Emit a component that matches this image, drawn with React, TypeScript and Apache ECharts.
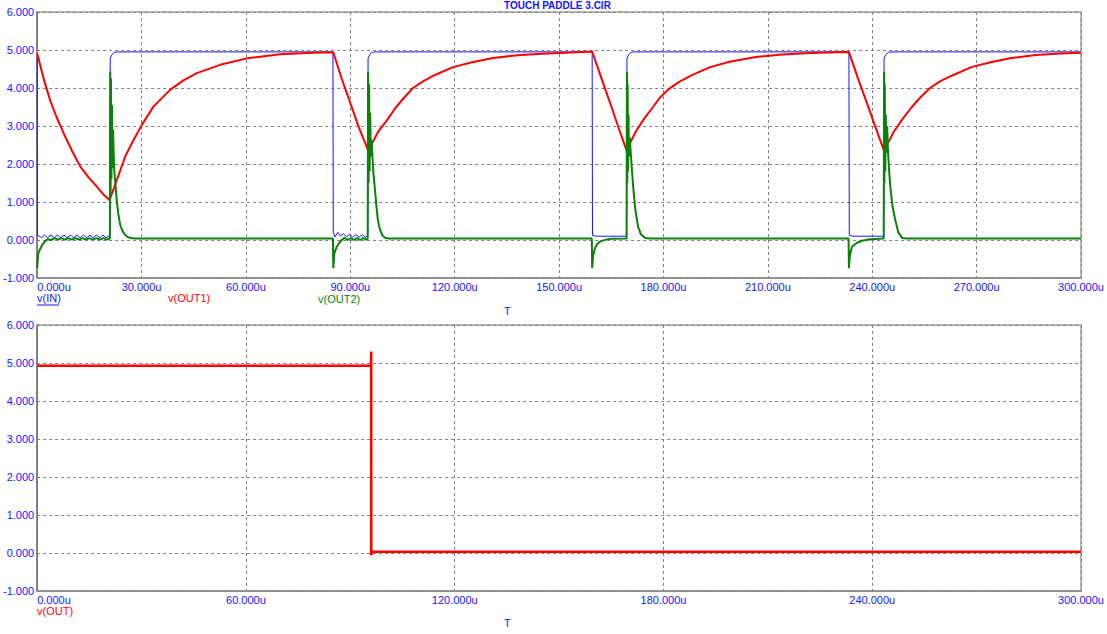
import { useEffect, useRef } from 'react';
import * as echarts from 'echarts';

const TITLE = 'TOUCH PADDLE 3.CIR';
const TOP_LEGENDS = ['v(IN)', 'v(OUT1)', 'v(OUT2)'];
const BOTTOM_LEGENDS = ['v(OUT)'];
const X_NAME = 'T';

// time in microseconds, value in volts
const vIn: number[][] = [
  [0, 4.8], [0.05, 0.12], [0.3, 0.12], [1.2, 0.06], [2.1, 0.13], [3.0, 0.06], [4.0, 0.13], [4.9, 0.06],
  [5.8, 0.13], [6.8, 0.06], [7.7, 0.13], [8.6, 0.06], [9.6, 0.13], [10.5, 0.06], [11.4, 0.13],
  [12.4, 0.06], [13.3, 0.13], [14.2, 0.06], [15.2, 0.13], [16.1, 0.06], [17.0, 0.13], [18.0, 0.06],
  [18.9, 0.13], [19.8, 0.06], [20.8, 0.12],
  [21.0, 4.78], [21.5, 4.88], [22.2, 4.94], [23.0, 4.95], [85.0, 4.95],
  [85.1, 0.2], [85.6, 0.08], [86.4, 0.2], [87.2, 0.1], [88.0, 0.17], [88.9, 0.08], [89.8, 0.15],
  [90.7, 0.07], [91.6, 0.14], [92.5, 0.07], [93.4, 0.14], [94.3, 0.07], [95.0, 0.12],
  [95.1, 4.78], [95.6, 4.88], [96.3, 4.94], [97.1, 4.95], [159.5, 4.95],
  [159.6, 0.12], [160.5, 0.1], [169.4, 0.1],
  [169.5, 4.78], [170.0, 4.88], [170.7, 4.94], [171.5, 4.95], [233.3, 4.95],
  [233.4, 0.12], [234.3, 0.1], [243.3, 0.1],
  [243.4, 4.78], [243.9, 4.88], [244.6, 4.94], [245.4, 4.95], [300, 4.95],
];

const vOut1: number[][] = [
  [0, 4.91], [1, 4.55], [2, 4.2], [3.7, 3.68], [5.5, 3.25], [7.6, 2.81], [10, 2.35], [12.4, 1.93],
  [15, 1.62], [17.2, 1.4], [19, 1.2], [20.8, 1.05], [21.0, 1.1],
  [22.9, 1.58], [25.3, 2.2], [27.7, 2.63], [30.1, 3.03], [33.4, 3.51], [38.2, 3.95], [42, 4.2],
  [45.9, 4.39], [52.6, 4.61], [60.3, 4.78], [69.8, 4.89], [79.4, 4.93], [85.1, 4.94],
  [87.5, 4.25], [90, 3.6], [92.5, 2.95], [95.3, 2.32],
  [96.3, 2.55], [98, 2.85], [100.6, 3.16], [103, 3.48], [105.5, 3.75], [108, 4.0], [111, 4.18],
  [114, 4.33], [119.5, 4.55], [125, 4.68], [131, 4.79], [138, 4.86], [145, 4.9], [152, 4.93], [159.5, 4.96],
  [162, 4.3], [164.5, 3.65], [167, 2.98], [169.4, 2.35],
  [170.4, 2.55], [172, 2.85], [174.5, 3.2], [177, 3.5], [179, 3.75], [181.5, 3.97], [184.5, 4.16],
  [188, 4.33], [193.4, 4.55], [199, 4.69], [207, 4.82], [214, 4.88], [222, 4.92], [233.3, 4.95],
  [235.8, 4.28], [238.4, 3.62], [241, 2.95], [243.5, 2.32],
  [244.5, 2.55], [246.2, 2.85], [248.7, 3.18], [251.2, 3.48], [253.8, 3.75], [256.6, 4.0], [259.6, 4.18],
  [263, 4.33], [268.5, 4.55], [274, 4.68], [280, 4.79], [287, 4.87], [294, 4.91], [300, 4.93],
];

const vOut2: number[][] = [
  [0, -0.74], [0.3, -0.35], [0.8, -0.25], [1.5, -0.12], [2.3, -0.03], [3, 0.02], [4, 0.0], [5, 0.05],
  [6, 0.01], [7, 0.05], [8, 0.01], [9, 0.05], [10, 0.01], [11, 0.05], [12, 0.01], [13, 0.05], [14, 0.01],
  [15, 0.05], [16, 0.01], [17, 0.05], [18, 0.01], [19, 0.05], [20, 0.01], [20.9, 0.04],
  [21.0, 4.43], [21.1, 1.2], [21.2, 4.25], [21.35, 1.6], [21.5, 3.55], [21.65, 1.9], [21.8, 2.9],
  [22.1, 1.9], [22.4, 1.58], [22.9, 1.0], [23.3, 0.7], [23.8, 0.42], [24.4, 0.26], [25.2, 0.14],
  [26, 0.08], [27, 0.05], [28, 0.04], [85.0, 0.04],
  [85.1, -0.74], [85.4, -0.35], [86, -0.2], [86.8, -0.08], [87.5, 0.0], [88.3, 0.06], [89.2, 0.0],
  [90.1, 0.05], [91, 0.0], [91.9, 0.05], [92.8, 0.0], [93.7, 0.05], [94.6, 0.01], [95.0, 0.04],
  [95.1, 4.43], [95.25, 1.5], [95.4, 4.1], [95.55, 1.8], [95.7, 3.34], [95.9, 2.2], [96.1, 2.63],
  [96.6, 1.8], [97, 1.4], [97.5, 0.9], [97.9, 0.53], [98.5, 0.28], [99.2, 0.12], [100, 0.06],
  [101, 0.04], [159.4, 0.04],
  [159.5, -0.74], [159.8, -0.4], [160.3, -0.22], [161, -0.1], [162, -0.03], [163.5, 0.01], [165, 0.03],
  [169.4, 0.04],
  [169.5, 4.43], [169.6, 1.5], [169.7, 4.1], [169.8, 1.8], [169.95, 3.3], [170.1, 2.2], [170.3, 2.7],
  [170.8, 2.0], [171.3, 1.4], [171.9, 0.8], [172.7, 0.35], [173.5, 0.15], [174.7, 0.05], [176, 0.04],
  [233.2, 0.04],
  [233.3, -0.74], [233.6, -0.38], [234.2, -0.18], [235.5, -0.08], [237, -0.02], [239.4, 0.02],
  [243.3, 0.04],
  [243.4, 4.43], [243.5, 1.5], [243.6, 4.1], [243.75, 1.8], [243.9, 3.3], [244.05, 2.3], [244.3, 3.0],
  [244.5, 2.4], [244.8, 1.9], [245.1, 1.5], [245.8, 0.9], [246.6, 0.53], [247.5, 0.2], [248.6, 0.05],
  [250, 0.04], [300, 0.04],
];

const vOut: number[][] = [
  [0, 4.93], [95.95, 4.93], [96.0, 5.3], [96.02, -0.05], [96.3, 0.03], [300, 0.03],
];

const BLUE = '#1414ff';
const RED = '#ff0000';
const GREEN = '#0a820a';
const FONT = 'Liberation Sans, Arial, sans-serif';

export default function App() {
  const ref = useRef<HTMLDivElement>(null);
  useEffect(() => {
    if (!ref.current) return;
    const chart = echarts.init(ref.current, undefined, { renderer: 'svg' });
    const gridTop = { left: 37, top: 12, width: 1044, height: 266 };
    const gridBot = { left: 37, top: 325, width: 1044, height: 266 };
    const splitLine = { show: true, lineStyle: { type: [3, 3], color: '#808080', width: 1 } };
    const xAxisBase = (gridIndex: number, interval: number) => ({
      type: 'value',
      gridIndex,
      min: 0,
      max: 300,
      interval,
      axisLine: { show: true, onZero: false, lineStyle: { color: '#8a8a8a', width: 1.5 } },
      axisTick: { show: false },
      splitLine,
      axisLabel: {
        color: BLUE,
        fontSize: 11,
        fontFamily: FONT,
        margin: 3,
        alignMinLabel: 'left',
        formatter: (v: number) => v.toFixed(3) + 'u',
      },
    });
    const yAxisBase = (gridIndex: number) => ({
      type: 'value',
      gridIndex,
      min: -1,
      max: 6,
      interval: 1,
      axisLine: { show: true, lineStyle: { color: '#707070', width: 1.5 } },
      axisTick: { show: false },
      splitLine,
      axisLabel: {
        color: BLUE,
        fontSize: 11,
        fontFamily: FONT,
        margin: 3,
        formatter: (v: number) => v.toFixed(3),
      },
    });
    const lineSeries = (data: number[][], color: string, width: number, idx: number) => ({
      type: 'line',
      data,
      xAxisIndex: idx,
      yAxisIndex: idx,
      showSymbol: false,
      symbol: 'none',
      lineStyle: { color, width },
      itemStyle: { color },
      silent: true,
    });
    const txt = (text: string, x: number, y: number, color: string, extra: any = {}) => ({
      type: 'text',
      left: x,
      top: y,
      silent: true,
      style: { text, fill: color, fontSize: 11, fontFamily: FONT, ...extra },
    });
    chart.setOption({
      animation: false,
      backgroundColor: '#ffffff',
      textStyle: { fontFamily: FONT },
      grid: [
        { ...gridTop, show: true, borderColor: '#a0a0a0', borderWidth: 1.5, containLabel: false },
        { ...gridBot, show: true, borderColor: '#a0a0a0', borderWidth: 1.5, containLabel: false },
      ],
      xAxis: [xAxisBase(0, 30), xAxisBase(1, 60)],
      yAxis: [yAxisBase(0), yAxisBase(1)],
      series: [
        lineSeries(vIn, BLUE, 1, 0),
        lineSeries(vOut1, RED, 2, 0),
        lineSeries(vOut2, GREEN, 2, 0),
        lineSeries(vOut, RED, 2.5, 1),
      ],
      graphic: [
        {
          type: 'text',
          left: 504,
          top: 0,
          silent: true,
          style: { text: TITLE, fill: BLUE, fontSize: 10, fontWeight: 'bold', fontFamily: FONT },
        },
        txt(TOP_LEGENDS[0], 37, 292, BLUE),
        { type: 'line', silent: true, shape: { x1: 37, y1: 305, x2: 59, y2: 305 }, style: { stroke: BLUE, lineWidth: 1 } },
        txt(TOP_LEGENDS[1], 168, 292, RED),
        txt(TOP_LEGENDS[2], 318, 293, GREEN),
        txt(X_NAME, 504, 305, BLUE),
        txt(BOTTOM_LEGENDS[0], 37, 605, RED),
        txt(X_NAME, 504, 617, BLUE),
      ],
    });
    return () => chart.dispose();
  }, []);
  return (
    <div
      ref={ref}
      style={{ position: 'fixed', left: 0, top: 0, width: 1107, height: 634, background: '#fff' }}
    />
  );
}
